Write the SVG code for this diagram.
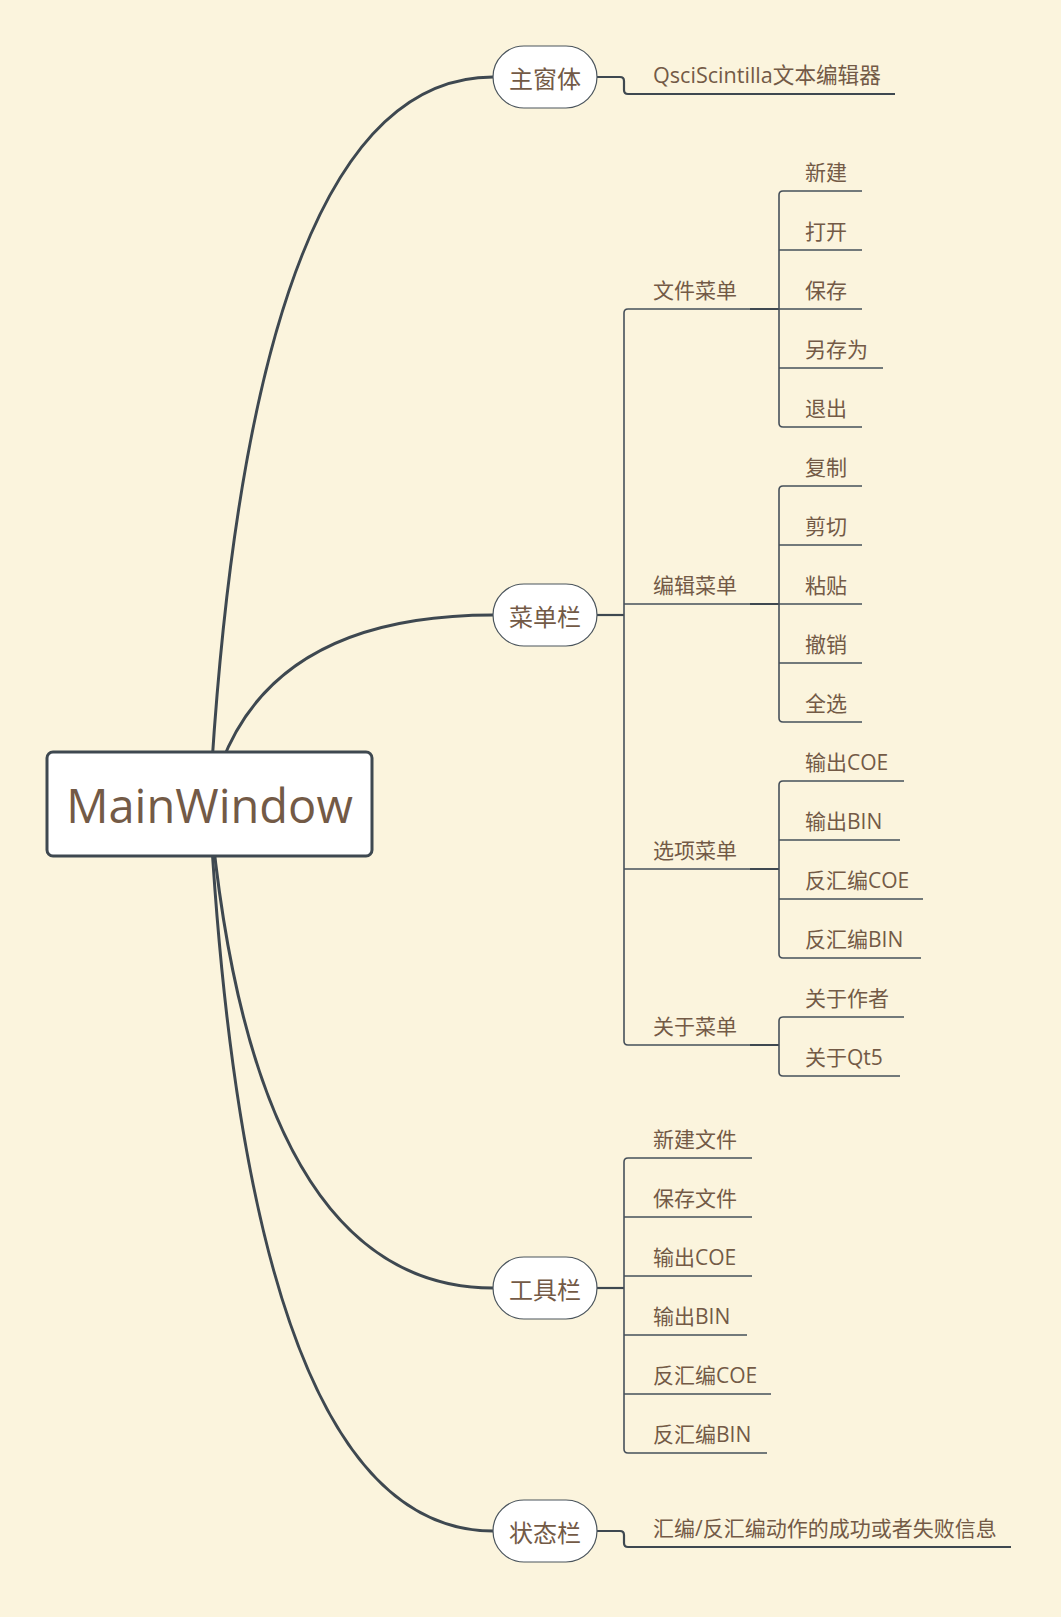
<svg xmlns="http://www.w3.org/2000/svg" width="1061" height="1617" viewBox="0 0 1061 1617">
<style>
.bg{fill:#fbf4dd}
.curve{fill:none;stroke:#3e4850;stroke-width:3;stroke-linecap:round}
.br{fill:none;stroke:#46505a;stroke-width:1.6}
.lk{fill:none;stroke:#3e4850;stroke-width:2.2}
.pill{fill:#ffffff;stroke:#4a545c;stroke-width:1.2}
.root{fill:#ffffff;stroke:#3e4850;stroke-width:3}
text{font-family:"Open Sans","Noto Sans CJK SC",sans-serif;fill:#735a46}
.t{font-size:21px}
.p{font-size:24px;text-anchor:middle}
.m{font-size:47px;text-anchor:middle}
</style>
<rect class="bg" x="0" y="0" width="1061" height="1617"/>
<g id="connectors">
  <path class="curve" d="M209.5,804 Q250,77 493,77"/>
  <path class="curve" d="M209.5,804 Q250,615 493,615"/>
  <path class="curve" d="M209.5,804 Q252,1288 493,1288"/>
  <path class="curve" d="M209.5,804 Q248,1531 493,1531"/>
  <path class="lk" d="M597,77 H620 Q624,77 624,81 V90 Q624,94 628,94 H895"/>
  <path class="lk" d="M597,615 H624"/>
  <path class="br" d="M779,309 H628 Q624,309 624,313 V1041 Q624,1045 628,1045 H779"/>
  <path class="br" d="M624,604 H779"/>
  <path class="br" d="M624,869 H779"/>
  <path class="lk" d="M750,309 H779 M750,604 H779 M750,869 H779 M750,1045 H779"/>
  <path class="br" d="M862,191 H783 Q779,191 779,195 V423 Q779,427 783,427 H862"/>
  <path class="br" d="M779,250 H862 M779,309 H862 M779,368 H883"/>
  <path class="br" d="M862,486 H783 Q779,486 779,490 V718 Q779,722 783,722 H862"/>
  <path class="br" d="M779,545 H862 M779,604 H862 M779,663 H862"/>
  <path class="br" d="M904,781 H783 Q779,781 779,785 V954 Q779,958 783,958 H921"/>
  <path class="br" d="M779,840 H900 M779,899 H923"/>
  <path class="br" d="M904,1017 H783 Q779,1017 779,1021 V1072 Q779,1076 783,1076 H900"/>
  <path class="lk" d="M597,1288 H624"/>
  <path class="br" d="M752,1158 H628 Q624,1158 624,1162 V1449 Q624,1453 628,1453 H767"/>
  <path class="br" d="M624,1217 H752 M624,1276 H752 M624,1335 H747 M624,1394 H771"/>
  <path class="lk" d="M597,1531 H620 Q624,1531 624,1535 V1543 Q624,1547 628,1547 H1011"/>
</g>
<g id="root">
  <rect class="root" x="47" y="752" width="325" height="104" rx="6"/>
  <text class="m" x="209.5" y="823">MainWindow</text>
</g>
<g id="zhuchuangti">
  <rect class="pill" x="493" y="46" width="104" height="62" rx="31"/>
  <text class="p" x="545" y="87.5">主窗体</text>
</g>
<g id="qsci"><text class="t" x="653" y="83" style="font-size:21.6px">QsciScintilla文本编辑器</text></g>
<g id="caidanlan">
  <rect class="pill" x="493" y="584" width="104" height="62" rx="31"/>
  <text class="p" x="545" y="625.5">菜单栏</text>
</g>
<g id="wenjian"><text class="t" x="653" y="298">文件菜单</text></g>
<g id="xinjian"><text class="t" x="805" y="180">新建</text></g>
<g id="dakai"><text class="t" x="805" y="239">打开</text></g>
<g id="baocun"><text class="t" x="805" y="298">保存</text></g>
<g id="lingcunwei"><text class="t" x="805" y="357">另存为</text></g>
<g id="tuichu"><text class="t" x="805" y="416">退出</text></g>
<g id="bianji"><text class="t" x="653" y="593">编辑菜单</text></g>
<g id="fuzhi"><text class="t" x="805" y="475">复制</text></g>
<g id="jianqie"><text class="t" x="805" y="534">剪切</text></g>
<g id="niantie"><text class="t" x="805" y="593">粘贴</text></g>
<g id="chexiao"><text class="t" x="805" y="652">撤销</text></g>
<g id="quanxuan"><text class="t" x="805" y="711">全选</text></g>
<g id="xuanxiang"><text class="t" x="653" y="858">选项菜单</text></g>
<g id="scoe"><text class="t" x="805" y="770">输出COE</text></g>
<g id="sbin"><text class="t" x="805" y="829">输出BIN</text></g>
<g id="fcoe"><text class="t" x="805" y="888">反汇编COE</text></g>
<g id="fbin"><text class="t" x="805" y="947">反汇编BIN</text></g>
<g id="guanyu"><text class="t" x="653" y="1034">关于菜单</text></g>
<g id="zuozhe"><text class="t" x="805" y="1006">关于作者</text></g>
<g id="qt5"><text class="t" x="805" y="1065">关于Qt5</text></g>
<g id="gongjulan">
  <rect class="pill" x="493" y="1257" width="104" height="62" rx="31"/>
  <text class="p" x="545" y="1298.5">工具栏</text>
</g>
<g id="tb1"><text class="t" x="653" y="1147">新建文件</text></g>
<g id="tb2"><text class="t" x="653" y="1206">保存文件</text></g>
<g id="tb3"><text class="t" x="653" y="1265">输出COE</text></g>
<g id="tb4"><text class="t" x="653" y="1324">输出BIN</text></g>
<g id="tb5"><text class="t" x="653" y="1383">反汇编COE</text></g>
<g id="tb6"><text class="t" x="653" y="1442">反汇编BIN</text></g>
<g id="zhuangtailan">
  <rect class="pill" x="493" y="1500" width="104" height="62" rx="31"/>
  <text class="p" x="545" y="1541.5">状态栏</text>
</g>
<g id="status"><text class="t" x="653" y="1536">汇编/反汇编动作的成功或者失败信息</text></g>
</svg>
